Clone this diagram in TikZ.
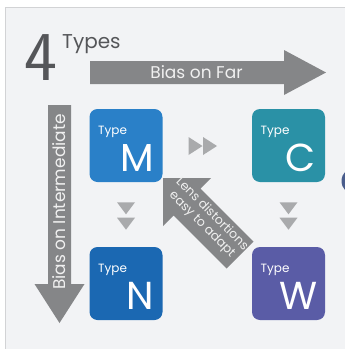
\documentclass[tikz,border=0pt]{standalone}
\usepackage{fontspec}
\setmainfont{Poppins}
\definecolor{panel}{HTML}{F2F3F5}
\definecolor{border}{HTML}{D2D3D5}
\definecolor{arrowgray}{HTML}{858688}
\definecolor{trigray}{HTML}{A9AAAC}
\definecolor{numgray}{HTML}{555659}
\definecolor{cM}{HTML}{2A80C8}
\definecolor{cC}{HTML}{2A91A6}
\definecolor{cN}{HTML}{1B68B2}
\definecolor{cW}{HTML}{5A5CA6}
\definecolor{dot}{HTML}{4A5D8C}
\definecolor{lighttext}{HTML}{F0F0F0}
\tikzset{
  box/.style={minimum size=73pt, inner sep=0pt, rounded corners=8pt, draw=none},
  typelbl/.style={anchor=base west, inner sep=0pt, text=white, font=\fontsize{12}{12}\selectfont},
  biglbl/.style={anchor=base east, inner sep=0pt, text=white, font=\fontsize{39}{39}\selectfont},
  bigarrow/.style={fill=arrowgray, draw=none},
  tri/.style={fill=trigray, draw=none},
  arrowtext/.style={inner sep=0pt, text=lighttext, font=\fontsize{17}{17}\selectfont}
}
\begin{document}
\begin{tikzpicture}[x=1pt,y=-1pt]
\useasboundingbox (0,0) rectangle (345,349);
\fill[white] (0,0) rectangle (345,349);
\filldraw[fill=panel, draw=border, line width=0.8pt] (5.5,7.5) rectangle (370,370);
% title
\node[anchor=base west, inner sep=0pt, text=numgray, font=\sffamily\fontsize{70}{70}\selectfont] (four) at (24,80) {4};
\node[anchor=base west, inner sep=0pt, text=numgray, font=\fontsize{20}{20}\selectfont] (types) at (62,48) {Types};
% horizontal arrow
\fill[bigarrow] (90,61) -- (284,61) -- (284,50) -- (326,72.5) -- (284,95) -- (284,84) -- (90,84) -- cycle;
\node[arrowtext, anchor=base] (far) at (196.5,78) {Bias on Far};
% vertical arrow
\fill[bigarrow] (48,105) -- (71,105) -- (71,284) -- (84.5,284) -- (59.5,323) -- (34.5,284) -- (48,284) -- cycle;
\node[arrowtext, rotate=90, anchor=base] (inter) at (66,202) {Bias on Intermediate};
% boxes
\node[box, fill=cM] (M) at (126,145.5) {};
\node[box, fill=cC] (C) at (288.5,145.5) {};
\node[box, fill=cN] (N) at (126,283.5) {};
\node[box, fill=cW] (W) at (288.5,283.5) {};
\node[typelbl] (Mt) at (98,134.3) {Type};
\node[biglbl] (Ml) at (154,171.7) {M};
\node[typelbl] (Ct) at (260.5,134.3) {Type};
\node[biglbl] (Cl) at (316,171.7) {C};
\node[typelbl] (Nt) at (98,272.3) {Type};
\node[biglbl] (Nl) at (154,309.7) {N};
\node[typelbl] (Wt) at (260.5,272.3) {Type};
\node[biglbl] (Wl) at (318,309.7) {W};
% diagonal arrow
\fill[bigarrow] (163,178) -- (211.04,178.0) -- (200.47,188.6) -- (253.5,241.7) -- (226.7,268.5) -- (173.6,215.5) -- (163.0,226.08) -- cycle;
\node[rotate=-45, inner sep=0pt, align=center, text=lighttext, font=\fontsize{12.5}{14}\selectfont] (lens) at (207,219.5) {Lens distortions\\easy to adapt};
% small triangles
\fill[tri] (188.5,137) -- (202.5,146) -- (188.5,155) -- cycle;
\fill[tri] (203,137) -- (217,146) -- (203,155) -- cycle;
\fill[tri] (117,202.3) -- (135,202.3) -- (126,214.3) -- cycle;
\fill[tri] (117,217.7) -- (135,217.7) -- (126,229.7) -- cycle;
\fill[tri] (279.5,202.3) -- (297.5,202.3) -- (288.5,214.3) -- cycle;
\fill[tri] (279.5,217.7) -- (297.5,217.7) -- (288.5,229.7) -- cycle;
% partial circle at right edge
\fill[dot] (355,181) circle (13.5);
\end{tikzpicture}
\end{document}
